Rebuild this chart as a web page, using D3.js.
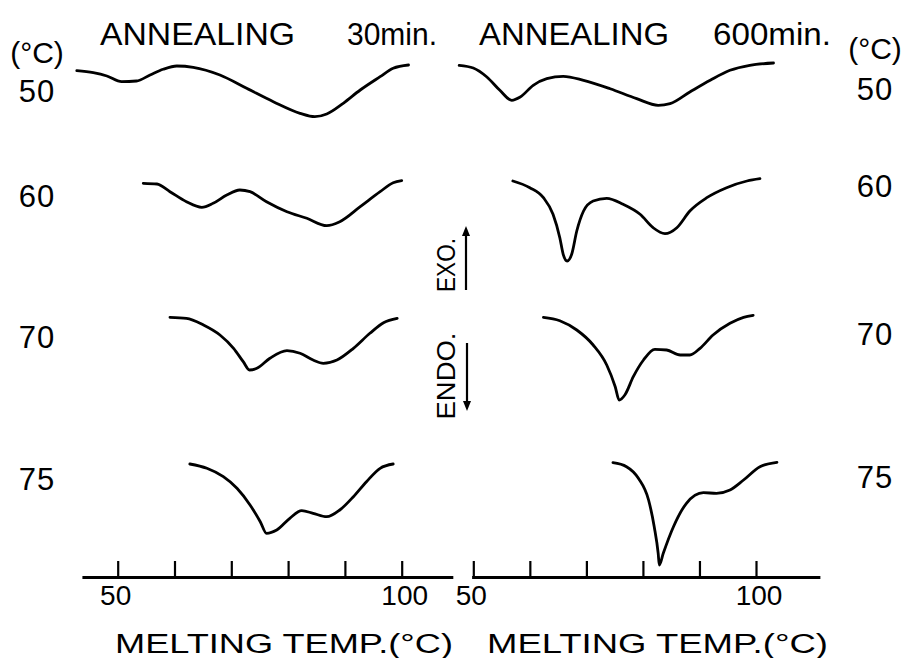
<!DOCTYPE html>
<html>
<head>
<meta charset="utf-8">
<script src="https://cdn.jsdelivr.net/npm/d3@7"></script>
<style>
body{margin:0;background:#fff;}
text{font-family:"Liberation Sans",Arial,sans-serif;fill:#000;}
</style>
</head>
<body>
<div id="viz-container"></div>
<script>
// annealing temperatures (rows) and axis ticks
const annealTemps = ['50','60','70','75'];
const tickTemps = [50,60,70,80,90,100];
const tickLabels = [50,100];
const titleLeft = ['ANNEALING','30min.'];
const titleRight = ['ANNEALING','600min.'];
const xTitle = 'MELTING TEMP.(°C)';

// DSC curves, annealing 30 min : melting temp (°C) / heat flow (a.u., endo down)
const t30_50 = [42.8,45.7,48.1,50.7,53.3,55.7,58.0,60.4,63.3,68.0,72.7,77.4,82.1,84.7,86.8,89.7,92.7,96.2,98.5,101.2];
const q30_50 = [-5.7,-7.7,-11,-16.7,-16,-10,-4.3,-1,-2.3,-10,-23.3,-36.7,-48.3,-51.7,-49,-38.3,-25,-11.7,-3.3,0];
const t30_60 = [54.5,56.9,59.2,62.1,64.8,66.8,69.2,71.5,73.3,76.2,79.8,83.3,86.8,89.1,92.7,96.2,98.5,100.0];
const q30_60 = [-2.3,-3,-10.7,-20.7,-26.3,-22.3,-14,-9,-10.7,-20.7,-30.7,-37.3,-44.7,-40.7,-25.7,-10.7,-1.7,0.3];
const t30_70 = [59.2,62.1,65.1,68.0,70.4,72.1,73.2,74.5,76.8,79.8,82.1,84.4,86.2,88.6,91.5,94.4,96.8,99.2];
const q30_70 = [-0.3,-1.3,-8,-18,-31.3,-44.7,-53,-51.3,-41.3,-33.7,-36.3,-43,-46.3,-43,-31.3,-16.3,-5.7,-1.3];
const t30_75 = [62.7,65.7,68.6,71.0,73.3,75.1,76.2,78.0,80.3,82.4,84.4,86.8,89.1,91.5,93.8,96.2,98.5];
const q30_75 = [-1,-5.3,-13.7,-25.3,-42,-58.7,-70.3,-67,-55.3,-47.7,-50.3,-53.7,-47,-33.7,-18.7,-5.3,-1];

// DSC curves, annealing 600 min
const t600_50 = [47.5,50.0,52.4,54.7,56.8,58.3,60.6,63.0,65.9,69.5,74.2,78.9,82.7,84.8,88.3,91.9,95.4,98.9,103.1];
const q600_50 = [-0.3,-3,-12,-25.3,-35.3,-32,-20.3,-13.7,-11.3,-15.3,-23.7,-33.7,-40.3,-38.7,-27,-15.3,-5.3,-0.3,2];
const t600_60 = [57.0,60.0,62.4,64.1,65.3,65.9,66.6,67.4,68.3,69.5,71.2,73.6,76.5,79.5,81.8,83.9,86.0,88.3,91.3,94.8,98.4,100.7];
const q600_60 = [0,-6.7,-16.7,-33.3,-56.7,-73.3,-80,-73.3,-50,-30,-20,-17.3,-23.3,-33.3,-46.7,-52.7,-46.7,-30,-16.7,-6.7,0,2.3];
const t600_70 = [62.4,65.3,68.3,71.2,73.6,75.1,75.8,76.8,78.3,80.1,82.1,84.2,86.6,88.3,90.1,92.4,95.4,97.8,99.5];
const q600_70 = [-0.3,-3.7,-13,-28,-48,-69.7,-83,-78,-59.7,-43,-32.3,-33,-38,-38,-31.3,-18,-6.3,-0.3,1.7];
const t600_75 = [74.7,77.1,79.2,81.0,82.0,82.7,82.9,83.6,85.4,87.7,90.7,93.0,95.4,97.8,100.7,103.7];
const q600_75 = [0.3,-3.7,-15.3,-37,-63.7,-90.3,-102,-90.3,-63.7,-40.3,-29.7,-30.3,-27,-17,-3.7,0.7];

const curves30 = [[t30_50,q30_50],[t30_60,q30_60],[t30_70,q30_70],[t30_75,q30_75]];
const curves600 = [[t600_50,q600_50],[t600_60,q600_60],[t600_70,q600_70],[t600_75,q600_75]];

// layout
const W = 912, H = 658;
const rowBase = [65,181,317,463];
const axisY = 577;

let viz = d3.select('#viz-container')
  .append('svg')
    .attr('width',W)
    .attr('height',H)
;

let panels = [
  {curves:curves30, title:titleLeft, range:[117.7,401.7], extent:[43.7,109.0],
   titleX:[100,347], titleW:[195,90], rowLabelX:37, rowLabelY:[102,207,348,490], unitX:37, unitY:63,
   xTitleX:115, xTitleW:338},
  {curves:curves600, title:titleRight, range:[473.3,756], extent:[49.7,111.3],
   titleX:[479,713], titleW:[190,118], rowLabelX:875, rowLabelY:[100,197,345,488], unitX:875, unitY:59,
   xTitleX:487, xTitleW:341}
];

panels.forEach(function(p){
  let x = d3.scaleLinear().domain([50,100]).range(p.range);

  // titles
  viz.append('text')
    .attr('x',p.titleX[0]).attr('y',45)
    .attr('font-size',32)
    .attr('textLength',p.titleW[0]).attr('lengthAdjust','spacingAndGlyphs')
    .text(p.title[0]);
  viz.append('text')
    .attr('x',p.titleX[1]).attr('y',45)
    .attr('font-size',32)
    .attr('textLength',p.titleW[1]).attr('lengthAdjust','spacingAndGlyphs')
    .text(p.title[1]);

  // row labels
  viz.append('text')
    .attr('x',p.unitX).attr('y',p.unitY)
    .attr('text-anchor','middle')
    .attr('font-size',30)
    .text('(°C)');
  viz.selectAll(null).data(annealTemps).enter()
    .append('text')
      .attr('x',p.rowLabelX)
      .attr('y',(d,i)=>p.rowLabelY[i])
      .attr('text-anchor','middle')
      .attr('font-size',31)
      .attr('letter-spacing',1)
      .text(d=>d);

  // curves
  p.curves.forEach(function(c,i){
    let y = d3.scaleLinear().domain([0,-100]).range([rowBase[i],rowBase[i]+100]);
    let line = d3.line()
      .x(d=>x(d[0]))
      .y(d=>y(d[1]))
      .curve(d3.curveMonotoneX);
    viz.append('path')
      .datum(d3.zip(c[0],c[1]))
      .attr('d',line)
      .attr('fill','none')
      .attr('stroke','black')
      .attr('stroke-width',2.8)
      .attr('stroke-linejoin','round')
      .attr('stroke-linecap','round');
  });

  // temperature axis, ticks pointing up
  let axisScale = x.copy().domain(p.extent).range(p.extent.map(x));
  let ax = viz.append('g')
    .attr('transform','translate(0,'+axisY+')')
    .call(d3.axisTop(axisScale).tickValues(tickTemps).tickSize(16).tickSizeOuter(0).tickFormat(''));
  ax.select('.domain').attr('stroke-width',2.8);
  ax.selectAll('.tick line').attr('stroke-width',2.2);

  viz.selectAll(null).data(tickLabels).enter()
    .append('text')
      .attr('x',d=>x(d)+(d==100?3:-2))
      .attr('y',605)
      .attr('text-anchor','middle')
      .attr('font-size',28)
      .text(d=>d);

  viz.append('text')
    .attr('x',p.xTitleX)
    .attr('y',653)
    .attr('font-size',27)
    .attr('textLength',p.xTitleW).attr('lengthAdjust','spacingAndGlyphs')
    .text(xTitle);
});

// EXO / ENDO indicator
viz.append('text')
  .attr('transform','translate(455,265) rotate(-90)')
  .attr('text-anchor','middle')
  .attr('font-size',26)
  .attr('textLength',54).attr('lengthAdjust','spacingAndGlyphs')
  .text('EXO.');
viz.append('text')
  .attr('transform','translate(455,376) rotate(-90)')
  .attr('text-anchor','middle')
  .attr('font-size',26)
  .attr('textLength',87).attr('lengthAdjust','spacingAndGlyphs')
  .text('ENDO.');

viz.append('line')
  .attr('x1',466).attr('y1',290).attr('x2',466).attr('y2',234)
  .attr('stroke','black').attr('stroke-width',2.2);
viz.append('path')
  .attr('d','M466,226 L462,236 L470,236 Z')
  .attr('fill','black');
viz.append('line')
  .attr('x1',467).attr('y1',343).attr('x2',467).attr('y2',403)
  .attr('stroke','black').attr('stroke-width',2.2);
viz.append('path')
  .attr('d','M467,411 L463,401 L471,401 Z')
  .attr('fill','black');
</script>
</body>
</html>
